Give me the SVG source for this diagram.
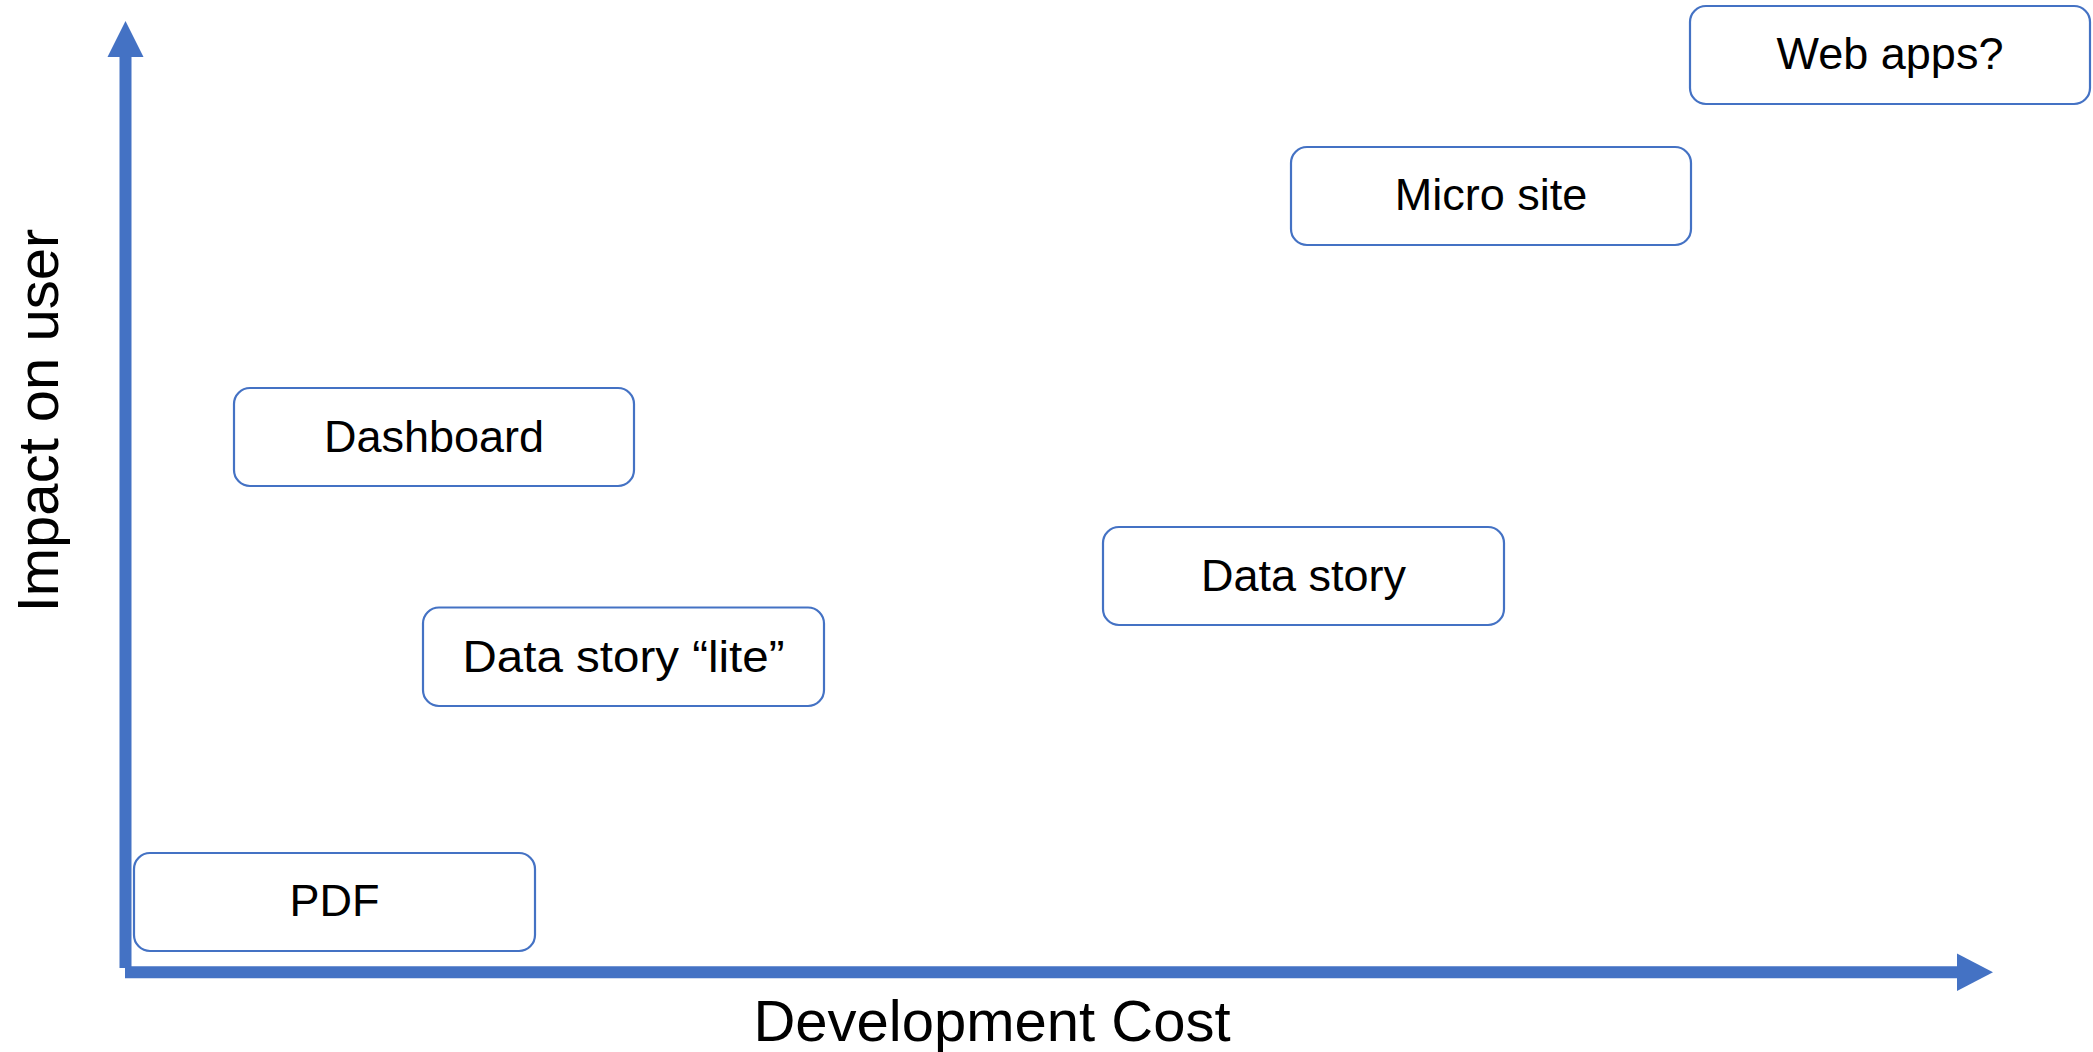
<svg xmlns="http://www.w3.org/2000/svg" width="2093" height="1052" viewBox="0 0 2093 1052">
<style>
.box{fill:#ffffff;stroke:#4472C4;stroke-width:2.2}
.lbl{font-family:"Liberation Sans",Arial,sans-serif;font-size:45px;fill:#000000;text-anchor:middle}
.axlbl{font-family:"Liberation Sans",Arial,sans-serif;font-size:58px;fill:#000000;text-anchor:middle}
.axis{stroke:#4472C4;stroke-width:12;fill:none}
.head{fill:#4472C4}
</style>
<rect width="2093" height="1052" fill="#ffffff"/>
<g id="connectors">
<line class="axis" x1="125.5" y1="968" x2="125.5" y2="55"/>
<polygon class="head" points="125.5,21 143.5,57 107.5,57"/>
<line class="axis" x1="125" y1="972.3" x2="1959" y2="972.3"/>
<polygon class="head" points="1993,972.3 1957,953.5 1957,991"/>
</g>
<g id="y-label"><text class="axlbl" transform="translate(58,420.5) rotate(-90)">Impact on user</text></g>
<g id="x-label"><text class="axlbl" x="992" y="1041">Development Cost</text></g>
<g id="node-webapps"><rect class="box" x="1690" y="6" width="400" height="98" rx="16"/><text class="lbl" x="1890" y="69">Web apps?</text></g>
<g id="node-microsite"><rect class="box" x="1291" y="147" width="400" height="98" rx="16"/><text class="lbl" x="1491" y="210">Micro site</text></g>
<g id="node-dashboard"><rect class="box" x="234" y="388" width="400" height="98" rx="16"/><text class="lbl" x="434" y="452">Dashboard</text></g>
<g id="node-datastory"><rect class="box" x="1103" y="527" width="401" height="98" rx="16"/><text class="lbl" x="1303.5" y="591">Data story</text></g>
<g id="node-datastorylite"><rect class="box" x="423" y="607.5" width="401" height="98.5" rx="16"/><text class="lbl" x="623.5" y="672" textLength="322" lengthAdjust="spacingAndGlyphs">Data story “lite”</text></g>
<g id="node-pdf"><rect class="box" x="134" y="853" width="401" height="98" rx="16"/><text class="lbl" x="334.5" y="916">PDF</text></g>
</svg>
